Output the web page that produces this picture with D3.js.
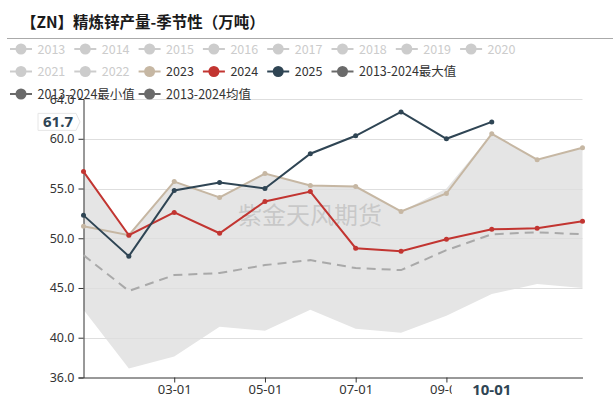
<!DOCTYPE html>
<html><head><meta charset="utf-8">
<script src="https://cdn.jsdelivr.net/npm/d3@7"></script>
<style>body{margin:0;background:#fff;}svg{display:block;font-family:"Noto Sans CJK SC","Noto Sans",sans-serif;}</style>
</head><body>
<svg id="c" width="613" height="398"></svg>
<script>
const months = ["01-01","02-01","03-01","04-01","05-01","06-01","07-01","08-01","09-01","10-01","11-01","12-01"];
const shownTicks = ["03-01","05-01","07-01","09-01"];
const yTicks = [36,40,45,50,55,60,64];
const s2023 = [51.2,50.3,55.7,54.1,56.5,55.3,55.2,52.7,54.5,60.5,57.9,59.1];
const s2024 = [56.7,50.3,52.6,50.5,53.7,54.7,49.0,48.7,49.9,50.9,51.0,51.7];
const s2025 = [52.3,48.2,54.8,55.6,55.0,58.5,60.3,62.7,60.0,61.7];
const sMax = [56.7,50.4,55.7,54.1,56.5,55.3,55.2,52.7,55.0,60.5,57.9,59.1];
const sMin = [42.8,36.9,38.1,41.1,40.7,42.8,40.9,40.5,42.2,44.4,45.4,45.0];
const sMean = [48.3,44.7,46.3,46.5,47.3,47.8,47.0,46.8,48.8,50.4,50.6,50.4];
const legendItems = [
 {name:"2013",on:false},{name:"2014",on:false},{name:"2015",on:false},{name:"2016",on:false},
 {name:"2017",on:false},{name:"2018",on:false},{name:"2019",on:false},{name:"2020",on:false},
 {name:"2021",on:false},{name:"2022",on:false},{name:"2023",on:true,color:"#c6b7a3"},
 {name:"2024",on:true,color:"#c23531"},{name:"2025",on:true,color:"#2f4554"},
 {name:"2013-2024最大值",on:true,color:"#6a6a6a"},
 {name:"2013-2024最小值",on:true,color:"#6a6a6a"},{name:"2013-2024均值",on:true,color:"#6a6a6a"}
];
const pointerX = "10-01", pointerY = 61.7;

const svg = d3.select("#c");
const x = d3.scalePoint().domain(months).range([83.5, 582.5]);
const y = d3.scaleLinear().domain([36,64]).range([377.5, 99]);

// title
svg.append("text").attr("x",21).attr("y",28).attr("font-size",15.5).attr("font-weight","bold")
  .attr("fill","#1a1a1a").text("【ZN】精炼锌产量-季节性（万吨）");
svg.append("line").attr("x1",7).attr("x2",613).attr("y1",38.5).attr("y2",38.5).attr("stroke","#aaa").attr("stroke-width",1);

// band
const idx = months.map((m,i)=>i);
svg.append("path").datum(idx)
  .attr("d", d3.area().x(i=>x(months[i])).y0(i=>y(sMin[i])).y1(i=>y(sMax[i])))
  .attr("fill","#e5e5e5");

// grid
svg.append("g").selectAll("line").data(yTicks.filter(t=>t>36)).join("line")
  .attr("x1",83.5).attr("x2",582.5).attr("y1",d=>Math.round(y(d))+0.5).attr("y2",d=>Math.round(y(d))+0.5)
  .attr("stroke","#dedede").attr("stroke-width",1);

// watermark
svg.append("text").attr("x",310).attr("y",224).attr("text-anchor","middle").attr("font-size",24)
  .attr("fill","#b0b0b0").attr("fill-opacity",0.55).text("紫金天风期货");

// axes
const yAxis = svg.append("g").attr("transform","translate(83.5,0)")
  .call(d3.axisLeft(y).tickValues(yTicks).tickFormat(d3.format(".1f")).tickSize(5).tickPadding(4));
yAxis.select(".domain").attr("stroke","#333");
yAxis.selectAll(".tick line").attr("stroke","#333");
yAxis.selectAll("text").attr("font-size",12.5).attr("fill","#333").attr("font-family","'Noto Sans',sans-serif");

const xAxis = svg.append("g").attr("transform","translate(0,377.5)")
  .call(d3.axisBottom(x).tickValues(shownTicks).tickSize(5).tickSizeOuter(0).tickPadding(2));
xAxis.select(".domain").attr("stroke","#333");
xAxis.selectAll(".tick line").attr("stroke","#333");
xAxis.selectAll("text").attr("font-size",13).attr("fill","#333").attr("font-family","'Noto Sans',sans-serif");

// mean dashed
svg.append("path").datum(idx).attr("d", d3.line().x(i=>x(months[i])).y(i=>y(sMean[i])))
  .attr("fill","none").attr("stroke","#a9a9a9").attr("stroke-width",2).attr("stroke-dasharray","9,6");

function series(data,color){
  const g = svg.append("g");
  const pts = data.map((v,i)=>[x(months[i]),y(v)]);
  g.append("path").attr("d",d3.line()(pts)).attr("fill","none").attr("stroke",color).attr("stroke-width",2);
  g.selectAll("circle").data(pts).join("circle").attr("cx",d=>d[0]).attr("cy",d=>d[1]).attr("r",2.5).attr("fill",color);
}
series(s2023,"#c6b7a3");
series(s2024,"#c23531");
series(s2025,"#2f4554");

// legend
const leg = svg.append("g");
legendItems.forEach((it,k)=>{
  let row, col;
  if(k<8){row=0;col=k;} else if(k<14){row=1;col=k-8;} else {row=2;col=(k-14)*2;}
  const lx = 10 + col*64.3, ly = 49 + row*22.5;
  const c = it.on ? it.color : "#ccc";
  leg.append("line").attr("x1",lx).attr("x2",lx+22).attr("y1",ly).attr("y2",ly).attr("stroke",c).attr("stroke-width",2);
  leg.append("circle").attr("cx",lx+11).attr("cy",ly).attr("r",5.5).attr("fill",c);
  leg.append("text").attr("x",lx+27.5).attr("y",ly+4.5).attr("font-size",12.5)
    .attr("fill",it.on?"#333":"#ccc").text(it.name);
});

// axis pointer labels
const py = y(pointerY);
const yl = svg.append("g");
yl.append("path").attr("d",`M38,${py-8.5} H76 L80,${py} L76,${py+8.5} H38 Z`).attr("fill","#fff").attr("stroke","#e6e6e6");
yl.append("text").attr("x",58).attr("y",py+5.5).attr("text-anchor","middle").attr("font-size",15)
  .attr("font-weight","bold").attr("fill","#2f4554").attr("font-family","'Noto Sans',sans-serif").text(pointerY.toFixed(1));
const px = x(pointerX);
svg.append("rect").attr("x",px-40).attr("y",380).attr("width",80).attr("height",18).attr("fill","#fff");
svg.append("text").attr("x",px).attr("y",395).attr("text-anchor","middle").attr("font-size",15)
  .attr("font-weight","bold").attr("fill","#2f4554").attr("font-family","'Noto Sans',sans-serif").text(pointerX);
</script>
</body></html>
